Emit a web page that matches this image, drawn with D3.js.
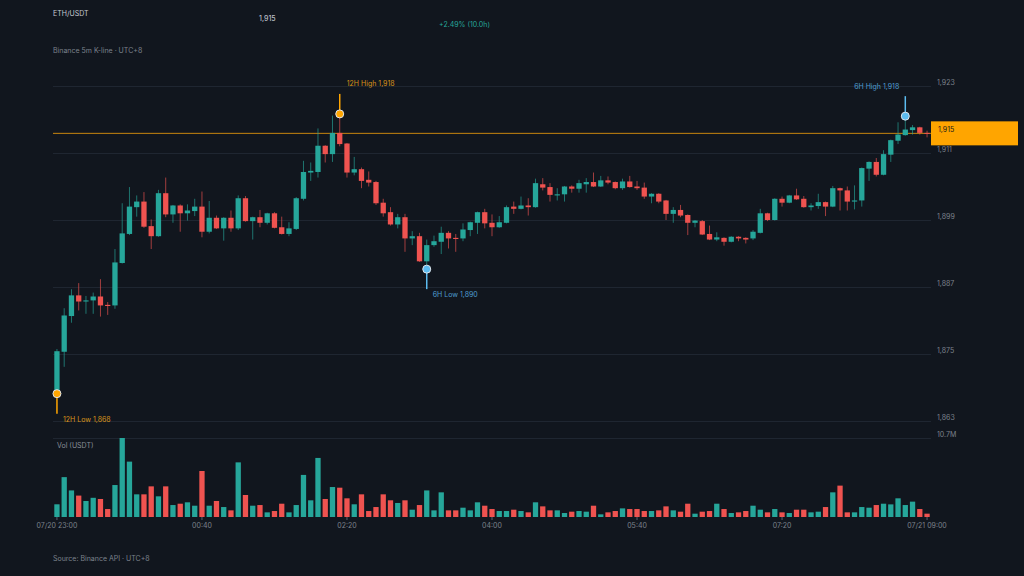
<!DOCTYPE html>
<html>
<head>
<meta charset="utf-8">
<script src="https://cdn.jsdelivr.net/npm/d3@7"></script>
<style>
  html, body { margin: 0; background: #11161e; }
  svg { display: block; font-family: Inter, Roboto, "Noto Sans", sans-serif; }
</style>
</head>
<body>
<svg id="chart" width="1024" height="576"></svg>
<script>
// ETH/USDT 5m candles, 07/20 23:00 -> 07/21 09:00 (UTC+8)
const opens = [
  1868.0, 1875.4, 1881.8, 1885.5, 1884.4, 1884.6, 1885.3, 1883.8, 1883.7, 1891.3,
  1896.5, 1901.3, 1902.3, 1897.9, 1896.1, 1903.8, 1900.0, 1901.6, 1900.2, 1900.6,
  1901.4, 1896.9, 1899.4, 1897.5, 1899.4, 1897.5, 1902.9, 1898.8, 1899.5, 1898.5,
  1900.2, 1897.7, 1896.5, 1897.4, 1902.8, 1907.5, 1907.6, 1912.3, 1910.8, 1914.6,
  1912.7, 1907.5, 1908.1, 1906.2, 1905.8, 1902.1, 1900.4, 1898.2, 1899.5, 1895.7,
  1896.1, 1891.6, 1894.5, 1895.1, 1896.7, 1895.8, 1895.7, 1897.2, 1898.5, 1900.4,
  1898.5, 1897.7, 1898.5, 1901.4, 1901.0, 1901.6, 1901.3, 1905.4, 1904.9, 1903.4,
  1903.6, 1905.0, 1904.6, 1905.4, 1905.8, 1905.0, 1906.1, 1905.8, 1904.7, 1905.9,
  1905.0, 1904.8, 1903.2, 1903.7, 1902.5, 1900.1, 1900.8, 1899.9, 1898.5, 1898.8,
  1896.5, 1895.5, 1895.8, 1895.1, 1896.0, 1895.8, 1895.7, 1896.7, 1900.2, 1899.0,
  1902.8, 1902.1, 1903.4, 1902.8, 1901.3, 1901.5, 1902.2, 1901.4, 1904.7, 1904.3,
  1902.3, 1902.5, 1908.2, 1909.4, 1907.1, 1910.7, 1913.2, 1914.2, 1915.1, 1915.6,
  1914.6
];
const highs = [
  1875.9, 1883.2, 1886.6, 1887.7, 1885.4, 1886.0, 1888.4, 1884.3, 1893.8, 1902.0,
  1904.9, 1903.4, 1904.0, 1899.1, 1904.4, 1906.6, 1901.7, 1901.8, 1901.8, 1902.8,
  1904.1, 1902.4, 1899.8, 1899.5, 1900.7, 1903.4, 1903.3, 1899.6, 1900.8, 1900.3,
  1900.4, 1899.6, 1898.6, 1903.1, 1909.6, 1909.3, 1915.4, 1912.4, 1917.7, 1918.0,
  1912.8, 1910.3, 1908.4, 1907.7, 1906.0, 1902.8, 1901.3, 1900.1, 1900.1, 1897.0,
  1896.7, 1895.5, 1896.2, 1897.8, 1897.0, 1896.5, 1898.4, 1898.7, 1900.5, 1901.0,
  1900.0, 1899.7, 1901.6, 1902.3, 1903.2, 1902.9, 1906.4, 1906.5, 1905.6, 1904.7,
  1905.1, 1905.2, 1906.2, 1906.5, 1907.5, 1906.9, 1906.8, 1905.9, 1906.4, 1906.9,
  1906.0, 1905.7, 1903.8, 1903.8, 1902.6, 1901.3, 1901.7, 1900.0, 1899.0, 1899.0,
  1898.0, 1896.8, 1895.9, 1896.1, 1896.1, 1895.9, 1897.2, 1901.0, 1900.3, 1902.9,
  1903.2, 1903.5, 1904.6, 1903.3, 1902.0, 1903.7, 1902.3, 1905.1, 1904.8, 1905.0,
  1905.2, 1908.4, 1909.5, 1910.1, 1911.5, 1913.4, 1916.5, 1917.6, 1916.0, 1915.7,
  1915.0
];
const lows = [
  1867.9, 1872.7, 1880.6, 1882.8, 1882.2, 1882.2, 1881.7, 1882.0, 1883.1, 1891.2,
  1896.3, 1899.6, 1897.6, 1893.8, 1896.0, 1899.5, 1898.5, 1896.9, 1898.9, 1899.7,
  1895.9, 1896.6, 1897.4, 1895.3, 1896.9, 1897.2, 1898.7, 1895.5, 1897.7, 1898.2,
  1897.5, 1896.4, 1896.1, 1897.2, 1902.5, 1906.0, 1906.6, 1909.3, 1909.4, 1912.2,
  1906.6, 1907.0, 1904.7, 1905.0, 1901.7, 1899.6, 1898.0, 1897.5, 1893.3, 1894.5,
  1891.5, 1890.2, 1894.2, 1892.9, 1893.9, 1893.3, 1895.2, 1896.1, 1896.5, 1897.5,
  1896.1, 1897.6, 1898.4, 1900.1, 1900.9, 1899.8, 1901.2, 1904.3, 1902.3, 1902.5,
  1902.3, 1903.9, 1903.9, 1903.9, 1904.9, 1904.9, 1905.4, 1904.5, 1904.4, 1904.8,
  1904.4, 1902.8, 1902.0, 1902.0, 1899.0, 1898.5, 1899.5, 1896.3, 1897.7, 1896.3,
  1895.4, 1895.2, 1894.4, 1895.0, 1895.2, 1894.8, 1895.4, 1896.6, 1898.8, 1898.9,
  1901.4, 1902.0, 1902.6, 1901.2, 1900.7, 1901.0, 1899.7, 1901.3, 1900.7, 1900.7,
  1900.9, 1901.4, 1906.0, 1906.8, 1907.0, 1909.4, 1912.6, 1914.1, 1914.3, 1914.3,
  1913.8
];
const closes = [
  1875.5, 1881.9, 1885.5, 1884.4, 1884.6, 1885.3, 1883.7, 1883.6, 1891.4, 1896.6,
  1901.4, 1902.3, 1897.8, 1896.1, 1903.8, 1900.0, 1901.6, 1900.2, 1900.7, 1901.4,
  1896.9, 1899.4, 1897.5, 1899.4, 1897.5, 1902.9, 1898.8, 1899.5, 1898.5, 1900.2,
  1897.6, 1896.5, 1897.5, 1902.9, 1907.6, 1907.8, 1912.3, 1910.8, 1914.6, 1912.6,
  1907.5, 1908.1, 1906.0, 1905.7, 1902.0, 1900.2, 1898.2, 1899.5, 1895.7, 1896.1,
  1891.6, 1894.5, 1895.2, 1896.7, 1895.7, 1895.6, 1897.3, 1898.6, 1900.4, 1898.4,
  1897.7, 1898.6, 1901.3, 1901.0, 1901.6, 1901.3, 1905.6, 1904.8, 1903.5, 1903.6,
  1905.0, 1904.6, 1905.6, 1905.8, 1905.0, 1906.1, 1905.7, 1904.7, 1905.9, 1904.9,
  1904.7, 1903.2, 1903.7, 1902.3, 1900.1, 1900.8, 1899.8, 1898.5, 1898.9, 1896.4,
  1895.5, 1895.9, 1895.1, 1896.0, 1895.7, 1895.5, 1896.9, 1900.2, 1899.0, 1902.8,
  1902.1, 1903.4, 1902.7, 1901.3, 1901.6, 1902.2, 1901.4, 1904.7, 1904.3, 1902.3,
  1902.5, 1908.3, 1909.4, 1907.1, 1910.8, 1913.3, 1914.3, 1915.2, 1915.6, 1914.6,
  1914.52
];
// volume in millions of USDT
const volumes = [
  1.72, 5.4, 3.6, 2.9, 2.17, 2.6, 2.44, 1.08, 4.33, 10.7,
  7.5, 3.07, 3.07, 4.15, 2.8, 4.15, 1.62, 1.8, 1.99, 1.53,
  6.23, 1.53, 2.17, 1.35, 0.9, 7.4, 2.98, 1.53, 1.62, 0.63,
  0.81, 1.8, 0.63, 1.62, 5.7, 2.26, 8.0, 2.44, 4.06, 3.97,
  2.53, 1.72, 3.07, 0.81, 1.35, 3.07, 2.26, 1.9, 2.26, 0.99,
  1.62, 3.6, 0.9, 3.34, 0.9, 0.9, 1.26, 0.9, 1.99, 1.53,
  1.08, 0.81, 0.81, 0.99, 0.81, 0.63, 1.99, 1.44, 0.9, 0.9,
  0.54, 0.72, 0.81, 0.72, 1.53, 0.36, 0.63, 0.81, 1.17, 1.08,
  1.08, 0.81, 0.81, 0.9, 1.44, 0.9, 0.72, 1.8, 0.45, 0.72,
  0.81, 1.8, 1.08, 0.54, 0.63, 0.81, 1.53, 0.99, 0.63, 1.08,
  0.63, 0.54, 0.99, 0.99, 0.63, 0.72, 1.35, 3.34, 4.25, 0.63,
  0.63, 1.35, 1.26, 1.62, 1.8, 1.71, 2.53, 1.62, 2.08, 1.08,
  0.45
];
const priceTicks = [1863, 1875, 1887, 1899, 1911, 1923];
const volMax = 10.7;
const xTickIndex = [0, 20, 40, 60, 80, 100, 120];
const xTickLabels = ['07/20 23:00', '00:40', '02:20', '04:00', '05:40', '07:20', '07/21 09:00'];

const width = 1024;
const height = 576;
const plotL = 53;
const plotR = 931;
const upColor = '#26a69a';
const downColor = '#ef5350';
const gridColor = '#1f2631';
const axisText = '#7c828c';

const candles = opens.map((o, i) => ({
  i, o, h: highs[i], l: lows[i], c: closes[i], v: volumes[i]
}));

const svg = d3.select('#chart');
svg.append('rect').attr('width', width).attr('height', height).attr('fill', '#11161e');

const x = d3.scaleBand()
  .domain(d3.range(candles.length))
  .range([plotL, plotR])
  .paddingInner(0.27)
  .paddingOuter(0.18);
const cx = i => x(i) + x.bandwidth() / 2;

const y = d3.scaleLinear().domain([1863, 1923]).range([421, 86]);
const vy = d3.scaleLinear().domain([0, volMax]).range([517, 438]);

// header
const fmt = d3.format(',.0f');
const last = candles[candles.length - 1];
const pct = last.c / candles[0].o - 1;
const hours = (candles.length - 1) * 5 / 60;

svg.append('text').attr('x', 53).attr('y', 15.5)
  .attr('font-size', 7).attr('fill', '#c5cad2').text('ETH/USDT');
svg.append('text').attr('x', 259).attr('y', 21)
  .attr('font-size', 7).attr('font-weight', 500).attr('fill', '#b9bec6').text(fmt(last.c));
svg.append('text').attr('x', 439).attr('y', 26.5)
  .attr('font-size', 7).attr('fill', upColor)
  .text(`${d3.format('+.2%')(pct)} (${hours.toFixed(1)}h)`);
svg.append('text').attr('x', 53).attr('y', 52.5)
  .attr('font-size', 7).attr('fill', axisText).text('Binance 5m K-line · UTC+8');

// price grid + labels
const yAxis = svg.append('g')
  .attr('transform', `translate(${plotR},0)`)
  .call(d3.axisRight(y).tickValues(priceTicks).tickSize(-(plotR - plotL)).tickPadding(6).tickFormat(d3.format(',')));
yAxis.select('.domain').remove();
yAxis.attr('font-family', null).attr('font-size', 7);
yAxis.selectAll('line').attr('stroke', gridColor);
yAxis.selectAll('text').attr('fill', axisText).attr('dy', null).attr('y', -1.5);

// volume grid + label
const vAxis = svg.append('g')
  .attr('transform', `translate(${plotR},0)`)
  .call(d3.axisRight(vy).tickValues([volMax]).tickSize(-(plotR - plotL)).tickPadding(6).tickFormat(d => d + 'M'));
vAxis.select('.domain').remove();
vAxis.attr('font-family', null).attr('font-size', 7);
vAxis.selectAll('line').attr('stroke', gridColor);
vAxis.selectAll('text').attr('fill', axisText).attr('dy', null).attr('y', -1.5);

svg.append('text').attr('x', 57).attr('y', 447.5)
  .attr('font-size', 7).attr('fill', '#8a9099').text('Vol (USDT)');

// x axis
const xAxis = svg.append('g')
  .attr('transform', 'translate(0,517)')
  .call(d3.axisBottom(x).tickValues(xTickIndex).tickSize(3).tickPadding(3).tickFormat((d, k) => xTickLabels[k]));
xAxis.select('.domain').remove();
xAxis.attr('font-family', null).attr('font-size', 7);
xAxis.selectAll('line').attr('stroke', '#5a6070');
xAxis.selectAll('text').attr('fill', axisText);

// current price line
const py = y(last.c);
svg.append('line')
  .attr('x1', plotL).attr('x2', plotR).attr('y1', py).attr('y2', py)
  .attr('stroke', '#c8860f').attr('stroke-width', 1);

// candles
const colorOf = d => (d.c >= d.o ? upColor : downColor);
const cg = svg.append('g');
cg.selectAll('line.wick')
  .data(candles)
  .join('line')
  .attr('class', 'wick')
  .attr('x1', d => cx(d.i)).attr('x2', d => cx(d.i))
  .attr('y1', d => y(d.h)).attr('y2', d => y(d.l))
  .attr('stroke', colorOf).attr('stroke-opacity', 0.65).attr('stroke-width', 1);
cg.selectAll('rect.body')
  .data(candles)
  .join('rect')
  .attr('class', 'body')
  .attr('x', d => x(d.i))
  .attr('width', x.bandwidth())
  .attr('y', d => y(Math.max(d.o, d.c)))
  .attr('height', d => Math.max(1, Math.abs(y(d.o) - y(d.c))))
  .attr('fill', colorOf);

// volume bars
svg.append('g')
  .selectAll('rect')
  .data(candles)
  .join('rect')
  .attr('x', d => x(d.i))
  .attr('width', x.bandwidth())
  .attr('y', d => vy(d.v))
  .attr('height', d => vy(0) - vy(d.v))
  .attr('fill', colorOf);

// price tag
svg.append('rect')
  .attr('x', plotR).attr('y', py - 12).attr('width', 87).attr('height', 24)
  .attr('fill', '#FFA500');
svg.append('text')
  .attr('x', plotR + 7).attr('y', py - 1)
  .attr('font-size', 7).attr('fill', '#1b1b1b').text(fmt(last.c));

// high / low annotations
const n6 = 72;
const off6 = candles.length - n6;
const hi12 = d3.maxIndex(highs);
const lo12 = d3.minIndex(lows);
const hi6 = off6 + d3.maxIndex(highs.slice(off6));
const lo6 = off6 + d3.minIndex(lows.slice(off6));

const annos = [
  { name: '12H High', i: hi12, v: highs[hi12], up: true, anchor: 'start', dx: 7, mark: '#FFA500', txt: '#d9941a' },
  { name: '12H Low', i: lo12, v: lows[lo12], up: false, anchor: 'start', dx: 6, mark: '#FFA500', txt: '#d9941a' },
  { name: '6H High', i: hi6, v: highs[hi6], up: true, anchor: 'end', dx: -6, mark: '#5cbcf0', txt: '#4f9dd0' },
  { name: '6H Low', i: lo6, v: lows[lo6], up: false, anchor: 'start', dx: 6, mark: '#5cbcf0', txt: '#4f9dd0' }
];

const ag = svg.append('g');
ag.selectAll('line')
  .data(annos)
  .join('line')
  .attr('x1', d => cx(d.i)).attr('x2', d => cx(d.i))
  .attr('y1', d => y(d.v))
  .attr('y2', d => y(d.v) + (d.up ? -20 : 20))
  .attr('stroke', d => d.mark).attr('stroke-width', 1.5);
ag.selectAll('circle')
  .data(annos)
  .join('circle')
  .attr('cx', d => cx(d.i)).attr('cy', d => y(d.v)).attr('r', 4)
  .attr('fill', d => d.mark).attr('stroke', '#dfe4ea').attr('stroke-width', 1);
ag.selectAll('text')
  .data(annos)
  .join('text')
  .attr('x', d => cx(d.i) + d.dx)
  .attr('y', d => y(d.v) + (d.up ? -27.5 : 28))
  .attr('text-anchor', d => d.anchor)
  .attr('font-size', 7)
  .attr('fill', d => d.txt)
  .text(d => `${d.name} ${fmt(d.v)}`);

// footer
svg.append('text').attr('x', 53).attr('y', 560.5)
  .attr('font-size', 7).attr('fill', axisText).text('Source: Binance API · UTC+8');
</script>
</body>
</html>
